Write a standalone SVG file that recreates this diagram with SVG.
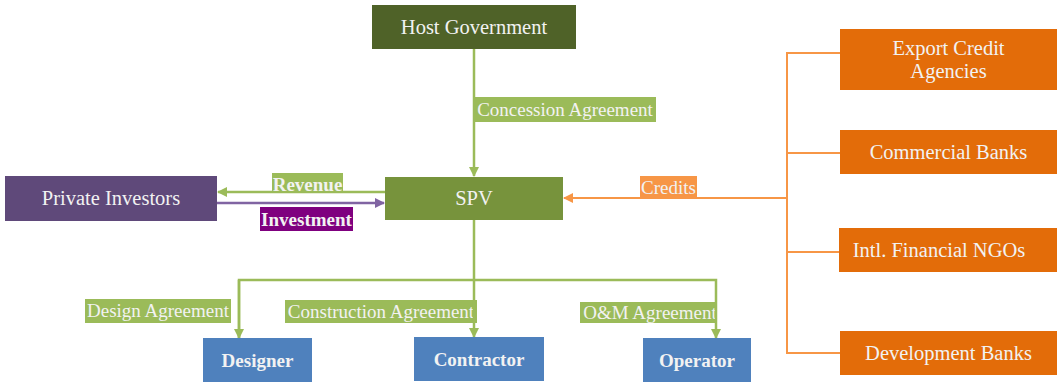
<svg xmlns="http://www.w3.org/2000/svg" width="1058" height="383" viewBox="0 0 1058 383">
<style>
.t{font-family:'Liberation Serif','Times New Roman','DejaVu Serif',serif;fill:#f2f2f2;text-anchor:middle}
.n{font-size:20.5px}
.l{font-size:19px}
.b{font-weight:bold;font-size:19px}
.g{stroke:#9bbb59;stroke-width:2.5;fill:none}
.o{stroke:#f79646;stroke-width:2;fill:none}
</style>
<defs>
<marker id="ag" markerWidth="10" markerHeight="10" refX="9" refY="5" orient="auto" markerUnits="userSpaceOnUse" viewBox="0 0 10 10"><path d="M0,0L10,5L0,10z" fill="#9bbb59"/></marker>
<marker id="ap" markerWidth="10" markerHeight="10" refX="9" refY="5" orient="auto" markerUnits="userSpaceOnUse" viewBox="0 0 10 10"><path d="M0,0L10,5L0,10z" fill="#8064a2"/></marker>
<marker id="ao" markerWidth="10" markerHeight="10" refX="9" refY="5" orient="auto" markerUnits="userSpaceOnUse" viewBox="0 0 10 10"><path d="M0,0L10,5L0,10z" fill="#f79646"/></marker>
</defs>
<rect width="1058" height="383" fill="#fff"/>
<g id="connectors">
<path class="g" d="M474,49V176" marker-end="url(#ag)"/>
<path class="g" d="M385,192H218" marker-end="url(#ag)"/>
<path d="M217,203H384" stroke="#8064a2" stroke-width="2.5" fill="none" marker-end="url(#ap)"/>
<path class="o" d="M787,198H564" marker-end="url(#ao)"/>
<path class="o" d="M840,53H787V353H840M787,153H840M787,252H840"/>
<rect x="474" y="97" width="182" height="25" fill="#9bbb59"/>
<text class="t l" x="565" y="116">Concession Agreement</text>
<rect x="272" y="173" width="71" height="20" fill="#9bbb59"/>
<text class="t l b" x="307.5" y="191">Revenue</text>
<rect x="260" y="207" width="93" height="24" fill="#7f007f"/>
<text class="t l b" x="306.5" y="226">Investment</text>
<rect x="640" y="176" width="57" height="23" fill="#f79646"/>
<text class="t l" x="668.5" y="194">Credits</text>
<rect x="85" y="299" width="146" height="24" fill="#9bbb59"/>
<text class="t l" x="158" y="317">Design Agreement</text>
<rect x="285" y="300" width="192" height="23" fill="#9bbb59"/>
<text class="t l" x="381" y="318">Construction Agreement</text>
<rect x="580" y="302" width="137" height="21" fill="#9bbb59"/>
<text class="t l" x="650" y="319">O&amp;M Agreement</text>
<path class="g" d="M474,220V337" marker-end="url(#ag)"/>
<path class="g" d="M239,338V280H716V338" marker-end="url(#ag)"/>
<path class="g" d="M239,280V338" marker-end="url(#ag)"/>
</g>
<g id="host"><rect x="372" y="5" width="204" height="44" fill="#4f6228"/><text class="t n" x="474" y="34">Host Government</text></g>
<g id="spv"><rect x="385" y="177" width="178" height="43" fill="#77933c"/><text class="t n" x="474" y="205">SPV</text></g>
<g id="investors"><rect x="5" y="176" width="212" height="45" fill="#5f497a"/><text class="t n" x="111" y="205">Private Investors</text></g>
<g id="eca"><rect x="840" y="29" width="217" height="61" fill="#e36c09"/><text class="t n" x="948.5" y="55">Export Credit</text><text class="t n" x="948.5" y="78">Agencies</text></g>
<g id="cb"><rect x="840" y="130" width="217" height="44" fill="#e36c09"/><text class="t n" x="948.5" y="159">Commercial Banks</text></g>
<g id="ngo"><rect x="839" y="228" width="218" height="44" fill="#e36c09"/><text class="t n" x="939" y="257">Intl. Financial NGOs</text></g>
<g id="db"><rect x="840" y="331" width="217" height="44" fill="#e36c09"/><text class="t n" x="948.5" y="360">Development Banks</text></g>
<g id="designer"><rect x="203" y="338" width="109" height="44" fill="#4f81bd"/><text class="t b" x="257.5" y="367">Designer</text></g>
<g id="contractor"><rect x="414" y="337" width="130" height="44" fill="#4f81bd"/><text class="t b" x="479" y="366">Contractor</text></g>
<g id="operator"><rect x="643" y="338" width="108" height="44" fill="#4f81bd"/><text class="t b" x="697" y="367">Operator</text></g>
</svg>
